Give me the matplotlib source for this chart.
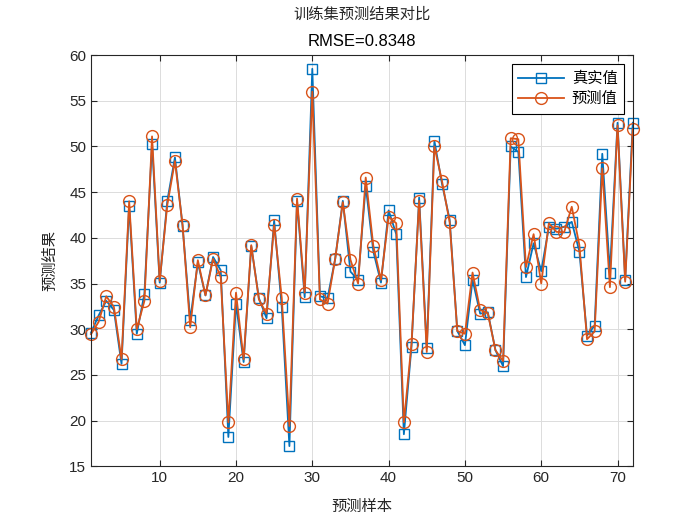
import matplotlib
matplotlib.use("Agg")
import matplotlib.pyplot as plt
import numpy as np

# --- Data ---
true_vals = [29.6, 31.5, 33.1, 32.1, 26.2, 43.5, 29.5, 33.9, 50.3, 35.1,
             44.05, 48.8, 41.3, 31.0, 37.3, 33.7, 37.9, 36.45, 18.2, 32.8,
             26.4, 39.1, 33.4, 31.2, 41.9, 32.4, 17.2, 44.05, 33.5, 58.5,
             33.6, 33.4, 37.7, 44.05, 36.3, 35.4, 45.7, 38.5, 35.1, 43.0,
             40.4, 18.5, 28.1, 44.4, 27.9, 50.6, 45.9, 42.0, 29.8, 28.25,
             35.4, 31.7, 31.85, 27.7, 25.95, 50.0, 49.4, 35.7, 39.4, 36.35,
             41.2, 41.0, 41.2, 41.75, 38.5, 29.3, 30.4, 49.2, 36.2, 52.6,
             35.4, 52.6]
pred_vals = [29.45, 30.8, 33.6, 32.45, 26.7, 44.0, 30.0, 33.1, 51.1, 35.3,
             43.6, 48.4, 41.4, 30.2, 37.55, 33.7, 37.7, 35.7, 19.8, 34.0,
             26.7, 39.2, 33.25, 31.7, 41.4, 33.4, 19.4, 44.3, 34.0, 56.0,
             33.25, 32.8, 37.7, 43.9, 37.6, 35.0, 46.6, 39.1, 35.4, 42.3,
             41.6, 19.8, 28.4, 44.05, 27.5, 50.0, 46.2, 41.7, 29.8, 29.5,
             36.2, 32.1, 31.75, 27.7, 26.5, 50.9, 50.8, 36.8, 40.4, 35.0,
             41.6, 40.65, 40.6, 43.4, 39.2, 28.9, 29.75, 47.6, 34.6, 52.3,
             35.2, 51.9]
samples = np.arange(1, len(true_vals) + 1)

blue = '#0072BD'
orange = '#D95319'
txt = '#262626'
cjk = ['Noto Sans CJK SC', 'DejaVu Sans']

fig = plt.figure(figsize=(7, 5.25), dpi=100)
ax = fig.add_axes([0.13, 0.112, 0.774, 0.783])

ax.plot(samples, true_vals, '-s', color=blue, lw=1.3, ms=6.5,
        mfc='none', mew=1.0, label='真实值', clip_on=False)
ax.plot(samples, pred_vals, '-o', color=orange, lw=1.3, ms=8.5,
        mfc='none', mew=1.0, label='预测值', clip_on=False)

ax.set_xlim(1, 72)
ax.set_ylim(15, 60)
ax.set_xticks(range(10, 71, 10))
ax.set_yticks(range(15, 61, 5))
ax.grid(True, color='#dcdcdc', lw=0.7)
ax.set_axisbelow(True)
ax.tick_params(direction='in', top=True, right=True, labelsize=11,
               colors=txt, length=4)
for lab in ax.get_xticklabels() + ax.get_yticklabels():
    lab.set_family('Liberation Sans')
for sp in ax.spines.values():
    sp.set_color(txt)
    sp.set_linewidth(0.8)

ax.set_xlabel('预测样本', family=cjk, fontsize=11, color=txt, labelpad=9)
ax.set_ylabel('预测结果', family=cjk, fontsize=11, color=txt, labelpad=8)

ax.text(0.5, 1.078, '训练集预测结果对比', transform=ax.transAxes,
        ha='center', va='bottom', family=cjk, fontsize=11, color=txt)
ax.text(0.5, 1.015, 'RMSE=0.8348', transform=ax.transAxes,
        ha='center', va='bottom', family='Liberation Sans', fontsize=12,
        color='black')

leg = ax.legend(loc='upper right', prop={'family': cjk, 'size': 11},
                fancybox=False, edgecolor='black', framealpha=1,
                borderaxespad=0.6, handlelength=3.0, handletextpad=0.5,
                borderpad=0.4, labelspacing=0.2)
leg.get_frame().set_linewidth(0.8)

plt.savefig('out.png', dpi=100)
